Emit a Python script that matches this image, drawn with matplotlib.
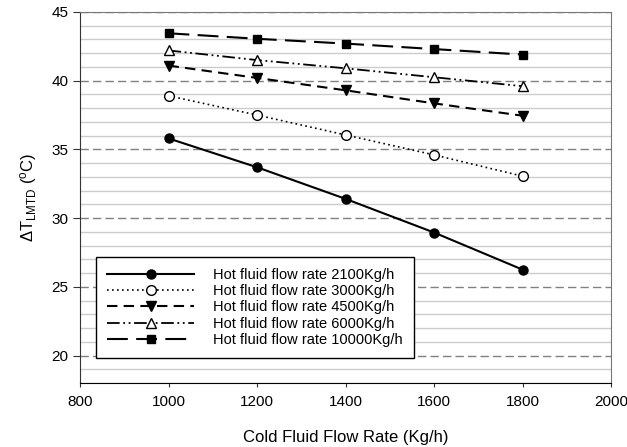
#!/usr/bin/env python3
# -*- coding: utf-8 -*-

"""LMTD vs cold fluid flow rate for several hot fluid flow rates."""

import matplotlib
matplotlib.use("Agg")
import matplotlib.pyplot as plt
from matplotlib.ticker import MultipleLocator

plt.rcParams["font.family"] = ["Liberation Sans", "DejaVu Sans"]
plt.rcParams["mathtext.fontset"] = "custom"
plt.rcParams["mathtext.rm"] = "Liberation Sans"
plt.rcParams["mathtext.it"] = "Liberation Sans"

COLD_FLOW = [1000, 1200, 1400, 1600, 1800]
HOT_2100 = [35.8, 33.7, 31.4, 28.95, 26.25]
HOT_3000 = [38.9, 37.5, 36.05, 34.6, 33.05]
HOT_4500 = [41.1, 40.2, 39.3, 38.35, 37.45]
HOT_6000 = [42.2, 41.5, 40.9, 40.25, 39.6]
HOT_10000 = [43.45, 43.05, 42.7, 42.3, 41.9]
LABELS = ["Hot fluid flow rate 2100Kg/h", "Hot fluid flow rate 3000Kg/h",
          "Hot fluid flow rate 4500Kg/h", "Hot fluid flow rate 6000Kg/h",
          "Hot fluid flow rate 10000Kg/h"]


def main():
    """Launcher."""
    fig = plt.figure(figsize=(6.27, 4.47), dpi=100)
    ax = fig.add_axes([0.1276, 0.1432, 0.847, 0.830])

    ax.plot(COLD_FLOW, HOT_2100, "-", color="black", lw=1.5,
            marker="o", ms=6.5, mfc="black", label=LABELS[0])
    ax.plot(COLD_FLOW, HOT_3000, color="black", lw=1.2, ls=(0, (1, 2)),
            marker="o", ms=7, mfc="white", mew=1, label=LABELS[1])
    ax.plot(COLD_FLOW, HOT_4500, color="black", lw=1.5, ls=(0, (5, 3)),
            marker="v", ms=7, mfc="black", label=LABELS[2])
    ax.plot(COLD_FLOW, HOT_6000, color="black", lw=1.3,
            ls=(0, (7, 2, 1, 2, 1, 2)),
            marker="^", ms=7, mfc="white", mew=1, label=LABELS[3])
    ax.plot(COLD_FLOW, HOT_10000, color="black", lw=1.5, ls=(0, (10, 4)),
            marker="s", ms=6, mfc="black", label=LABELS[4])

    ax.set_xlim(800, 2000)
    ax.set_ylim(18, 45)
    ax.xaxis.set_major_locator(MultipleLocator(200))
    ax.set_yticks([20, 25, 30, 35, 40, 45])
    ax.yaxis.set_minor_locator(MultipleLocator(1))
    ax.grid(True, which="minor", axis="y", color="#cccccc", lw=1, ls="-")
    ax.grid(True, which="major", axis="y", color="#808080", lw=1,
            ls=(0, (6, 3)))
    ax.set_axisbelow(True)
    ax.tick_params(which="minor", left=False)
    ax.tick_params(which="major", direction="out", labelsize=11,
                   color="#333333")
    ax.tick_params(axis="y", length=5, pad=3.5)
    ax.tick_params(axis="x", length=3, pad=6)

    for side in ("top", "right"):
        ax.spines[side].set_color("#777777")
    ax.spines["left"].set_color("#333333")
    ax.spines["bottom"].set_color("black")

    ax.set_xlabel("Cold Fluid Flow Rate (Kg/h)", fontsize=12, labelpad=14.5)
    ax.set_ylabel(r"$\Delta T_{\rm LMTD}$ ($^{\rm o}$C)", fontsize=12,
                  labelpad=9)

    leg = ax.legend(loc="lower left", bbox_to_anchor=(0.030, 0.068),
                    fontsize=10.5, handlelength=6.0, labelspacing=0.15,
                    borderpad=0.75, handletextpad=1.3, fancybox=False,
                    framealpha=1, edgecolor="black", borderaxespad=0)
    leg.get_frame().set_linewidth(1)

    fig.savefig("out.png", dpi=100)


if __name__ == "__main__":
    main()
